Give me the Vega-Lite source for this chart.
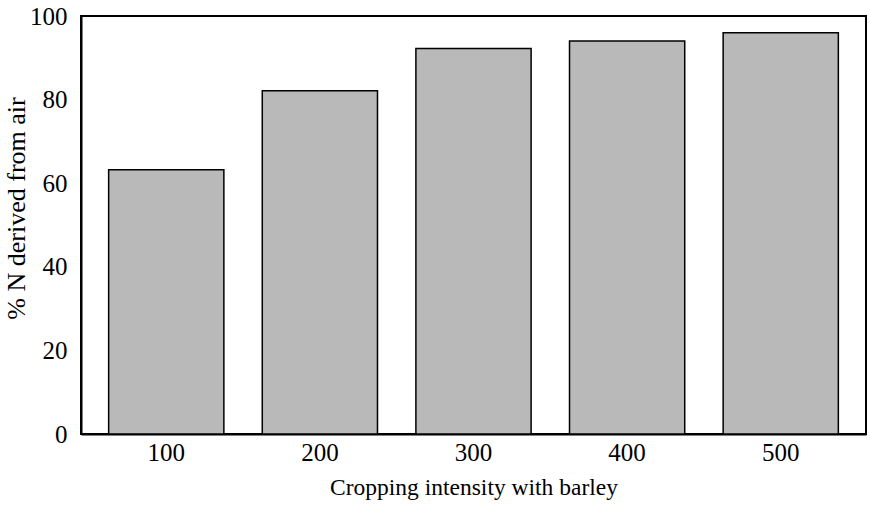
{
  "$schema": "https://vega.github.io/schema/vega-lite/v6.json",
  "width": 785,
  "height": 418,
  "autosize": {"type": "none"},
  "padding": {"left": 81, "top": 16, "right": 4, "bottom": 78},
  "background": "white",
  "config": {
    "view": {"stroke": "black", "strokeWidth": 2},
    "font": "Liberation Serif"
  },
  "data": {
    "values": [
      {"intensity": "100", "pct": 63.2},
      {"intensity": "200", "pct": 82.1},
      {"intensity": "300", "pct": 92.2},
      {"intensity": "400", "pct": 94.0},
      {"intensity": "500", "pct": 96.0}
    ]
  },
  "mark": {"type": "bar", "fill": "#b9b9b9", "stroke": "black", "strokeWidth": 1.5},
  "encoding": {
    "x": {
      "field": "intensity",
      "type": "ordinal",
      "sort": null,
      "scale": {"paddingInner": 0.25, "paddingOuter": 0.18},
      "axis": {
        "title": "Cropping intensity with barley",
        "titleFont": "Liberation Serif",
        "titleFontSize": 23.5,
        "titleFontWeight": "normal",
        "titleColor": "black",
        "titlePadding": 10,
        "labelFont": "Liberation Serif",
        "labelFontSize": 25,
        "labelColor": "black",
        "labelAngle": 0,
        "labelPadding": 12,
        "domainColor": "black",
        "domainWidth": 2,
        "tickColor": "black",
        "tickSize": -6,
        "tickWidth": 1.5
      }
    },
    "y": {
      "field": "pct",
      "type": "quantitative",
      "scale": {"domain": [0, 100], "nice": false},
      "axis": {
        "title": "% N derived from air",
        "titleFont": "Liberation Serif",
        "titleFontSize": 26,
        "titleFontWeight": "normal",
        "titleColor": "black",
        "titlePadding": 0,
        "titleY": 192,
        "labelFont": "Liberation Serif",
        "labelFontSize": 25,
        "labelColor": "black",
        "labelPadding": 14,
        "values": [0, 20, 40, 60, 80, 100],
        "grid": false,
        "ticks": false,
        "domainColor": "black",
        "domainWidth": 2
      }
    }
  }
}
